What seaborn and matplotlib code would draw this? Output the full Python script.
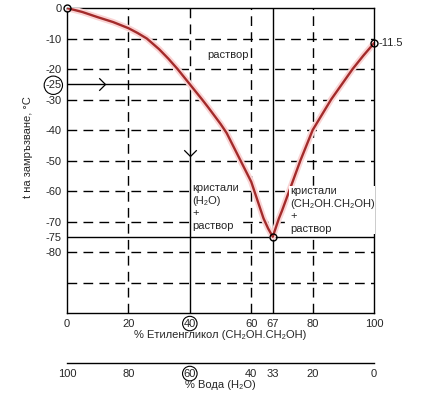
import matplotlib
matplotlib.use("Agg")
import matplotlib.pyplot as plt
import pandas as pd
import seaborn as sns

# Freezing curve (% glycol, t in C)
glycol_left = [0, 5, 10, 15, 20, 23, 26, 30, 33, 36, 38, 40, 42, 44, 46, 48, 50,
               52, 54, 56, 58, 60, 62, 64, 65.5, 67]
temp_left = [0, -1.3, -3, -4.6, -6.6, -8.2, -10, -13.5, -16.6, -20, -22.5, -25,
             -27.5, -30, -32.6, -35.3, -38, -41, -45, -49, -53, -57, -63, -69,
             -72.3, -75]
glycol_right = [67, 68, 69, 70, 72, 74, 76, 78, 80, 83, 86, 89.5, 93, 96.5, 100]
temp_right = [-75, -72, -69, -66.5, -61, -55.5, -50, -45, -40, -35, -30, -25,
              -20, -15.6, -11.5]

glycol_ticks = [0, 20, 40, 60, 67, 80, 100]
water_ticks = [100, 80, 60, 40, 33, 20, 0]
temp_ticks = [0, -10, -20, -25, -30, -40, -50, -60, -70, -75, -80]
dashed_temps = [-10, -20, -30, -40, -50, -60, -70, -80, -90]
dashed_glycol = [20, 60, 80]
special_points_x = [0, 67, 100]
special_points_y = [0, -75, -11.5]

sns.set_style("white")
plt.rcParams['font.family'] = ['Liberation Sans', 'DejaVu Sans']
plt.rcParams['font.size'] = 8

curve = pd.DataFrame({
    'glycol': glycol_left + glycol_right[1:],
    'temp': temp_left + temp_right[1:],
})

fig = plt.figure(figsize=(4.32, 3.95), dpi=100)
ax = fig.add_axes([0.155, 0.2076, 0.711, 0.7721])
ax.set_xlim(0, 100)
ax.set_ylim(-100, 0)

dash = (0, (7, 4.5))
# grid-like guide lines
for t in dashed_temps:
    ax.axhline(t, color='black', lw=1, linestyle=dash, zorder=1)
for g in dashed_glycol:
    ax.axvline(g, color='black', lw=1, linestyle=dash, zorder=1)
ax.plot([40, 40], [0, -25], color='black', lw=1, linestyle=dash, zorder=1)
ax.plot([40, 40], [-25, -100], color='black', lw=1, zorder=1)
ax.plot([0, 40], [-25, -25], color='black', lw=1, zorder=1)
ax.axhline(-75, color='black', lw=1, zorder=1)
ax.axvline(67, color='black', lw=1, zorder=1)

# freezing curve with a soft glow
sns.lineplot(data=curve, x='glycol', y='temp', sort=False, ax=ax,
             color='#fad4d4', lw=4.5, zorder=3)
sns.lineplot(data=curve, x='glycol', y='temp', sort=False, ax=ax,
             color='#a32b2b', lw=1.7, zorder=4)
ax.plot(special_points_x, special_points_y, 'o', ms=5, mfc='none', mec='black',
        mew=1, zorder=5, clip_on=False)

# arrow heads
chev_right = [(-1, 1), (0, 0), (-1, -1)]
chev_down = [(-1, 1), (0, 0), (1, 1)]
ax.plot([12.5], [-25], marker=chev_right, ms=9, mfc='none', mec='black', mew=0.9,
        linestyle='none', zorder=5)
ax.plot([40], [-48.5], marker=chev_down, ms=9, mfc='none', mec='black', mew=0.9,
        linestyle='none', zorder=5)

white = dict(facecolor='white', edgecolor='none', pad=0.5)
ax.text(52.5, -15.5, 'раствор', ha='center', va='center', zorder=6)
ax.text(40.8, -57.5, 'кристали\n(H₂O)\n+\nраствор', ha='left', va='top',
        linespacing=1.3, bbox=white, zorder=6)
ax.text(72.6, -58.5, 'кристали\n(CH₂OH.CH₂OH)\n+\nраствор', ha='left', va='top',
        linespacing=1.3, bbox=white, zorder=6)
ax.text(101.3, -11.5, '-11.5', ha='left', va='center', clip_on=False)

ax.set_xticks(glycol_ticks)
ax.set_xticklabels([str(v) for v in glycol_ticks])
ax.set_yticks(temp_ticks)
ax.set_yticklabels([str(v) for v in temp_ticks])
ax.tick_params(axis='both', length=0, labelsize=8)
ax.tick_params(axis='x', pad=4)
ax.tick_params(axis='y', pad=4)

circle = dict(boxstyle='circle,pad=0.1', facecolor='none', edgecolor='black', lw=0.8)
ax.get_yticklabels()[3].set_bbox(circle)
ax.get_xticklabels()[2].set_bbox(circle)

ax.set_xlabel('% Етиленгликол (CH₂OH.CH₂OH)', fontsize=8, labelpad=1)
ax.set_ylabel('t на замръзване, °C', fontsize=8)
ax.yaxis.set_label_coords(-0.11, 0.545)

for s in ax.spines.values():
    s.set_color('black')
    s.set_linewidth(1)

# water scale underneath
sec = ax.secondary_xaxis(-0.164, functions=(lambda x: 100 - x, lambda x: 100 - x))
sec.set_xticks(water_ticks)
sec.set_xticklabels([str(v) for v in water_ticks])
sec.tick_params(length=0, labelsize=8, pad=4)
sec.spines['bottom'].set_linewidth(1)
sec.spines['bottom'].set_color('black')
sec.set_xlabel('% Вода (H₂O)', fontsize=8, labelpad=1)
sec.get_xticklabels()[2].set_bbox(circle)

fig.savefig('out.png', dpi=100)
